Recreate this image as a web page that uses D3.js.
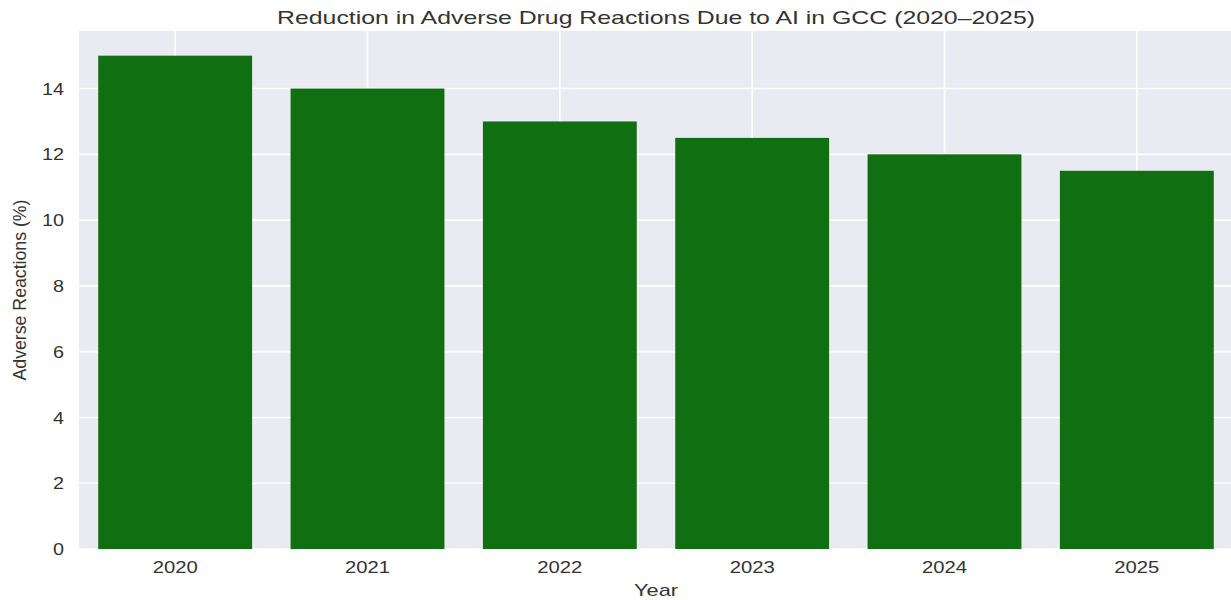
<!DOCTYPE html>
<html>
<head>
<meta charset="utf-8">
<script src="https://cdn.jsdelivr.net/npm/d3@7"></script>
<style>
  html, body { margin: 0; padding: 0; background: #ffffff; }
  svg { display: block; }
  text { font-family: "Liberation Sans", Arial, sans-serif; fill: #333333; }
</style>
</head>
<body>
<script>
// Chart data
const years = ["2020", "2021", "2022", "2023", "2024", "2025"];
const adverseReactions = [15, 14, 13, 12.5, 12, 11.5];
const yTicks = [0, 2, 4, 6, 8, 10, 12, 14];
const titleText = "Reduction in Adverse Drug Reactions Due to AI in GCC (2020\u20132025)";
const xLabelText = "Year";
const yLabelText = "Adverse Reactions (%)";

const width = 1231, height = 600;
const plot = { left: 79, right: 1233, top: 31, bottom: 549 };

const svg = d3.select("body").append("svg")
  .attr("width", width)
  .attr("height", height);

const x = d3.scaleBand()
  .domain(years)
  .range([plot.left, plot.right])
  .paddingInner(0.2)
  .paddingOuter(0.1);

const y = d3.scaleLinear()
  .domain([0, 15.75])
  .range([plot.bottom, plot.top]);

// Axes background
svg.append("rect")
  .attr("x", plot.left)
  .attr("y", plot.top)
  .attr("width", plot.right - plot.left)
  .attr("height", plot.bottom - plot.top)
  .attr("fill", "#eaeaf2");

// Grid lines
const grid = svg.append("g").attr("stroke", "#ffffff").attr("stroke-width", 1.6);
grid.selectAll("line.h").data(yTicks).join("line")
  .attr("class", "h")
  .attr("x1", plot.left).attr("x2", plot.right)
  .attr("y1", d => y(d)).attr("y2", d => y(d));
grid.selectAll("line.v").data(years).join("line")
  .attr("class", "v")
  .attr("x1", d => x(d) + x.bandwidth() / 2).attr("x2", d => x(d) + x.bandwidth() / 2)
  .attr("y1", plot.top).attr("y2", plot.bottom);

// Bars
svg.append("g").selectAll("rect").data(years).join("rect")
  .attr("x", d => x(d))
  .attr("y", (d, i) => y(adverseReactions[i]))
  .attr("width", x.bandwidth())
  .attr("height", (d, i) => y(0) - y(adverseReactions[i]))
  .attr("fill", "#106f10");

// Y axis tick labels
const yAxis = d3.axisLeft(y).tickValues(yTicks).tickSize(0).tickPadding(0).tickFormat(d3.format("d"));
const gy = svg.append("g").attr("transform", `translate(${plot.left - 15},0)`).call(yAxis);
gy.select(".domain").remove();
gy.selectAll("text")
  .attr("font-size", 16)
  .attr("font-family", "Liberation Sans, Arial, sans-serif")
  .attr("fill", "#333333")
  .attr("dy", "0.35em")
  .attr("textLength", d => String(d).length * 11)
  .attr("lengthAdjust", "spacingAndGlyphs");

// X axis tick labels
const xAxis = d3.axisBottom(x).tickSize(0).tickPadding(0);
const gx = svg.append("g").attr("transform", `translate(0,${plot.bottom})`).call(xAxis);
gx.select(".domain").remove();
gx.selectAll("text")
  .attr("font-size", 16)
  .attr("font-family", "Liberation Sans, Arial, sans-serif")
  .attr("fill", "#333333")
  .attr("y", 24)
  .attr("dy", 0)
  .attr("textLength", 45)
  .attr("lengthAdjust", "spacingAndGlyphs");

// Title
svg.append("text")
  .attr("x", (plot.left + plot.right) / 2)
  .attr("y", 24)
  .attr("text-anchor", "middle")
  .attr("font-size", 19)
  .attr("textLength", 758)
  .attr("lengthAdjust", "spacingAndGlyphs")
  .text(titleText);

// X axis label
svg.append("text")
  .attr("x", (plot.left + plot.right) / 2)
  .attr("y", 596)
  .attr("text-anchor", "middle")
  .attr("font-size", 17)
  .attr("textLength", 44)
  .attr("lengthAdjust", "spacingAndGlyphs")
  .text(xLabelText);

// Y axis label
svg.append("text")
  .attr("transform", `translate(26,${(plot.top + plot.bottom) / 2}) rotate(-90)`)
  .attr("text-anchor", "middle")
  .attr("font-size", 18)
  .attr("textLength", 181)
  .attr("lengthAdjust", "spacingAndGlyphs")
  .text(yLabelText);
</script>
</body>
</html>
